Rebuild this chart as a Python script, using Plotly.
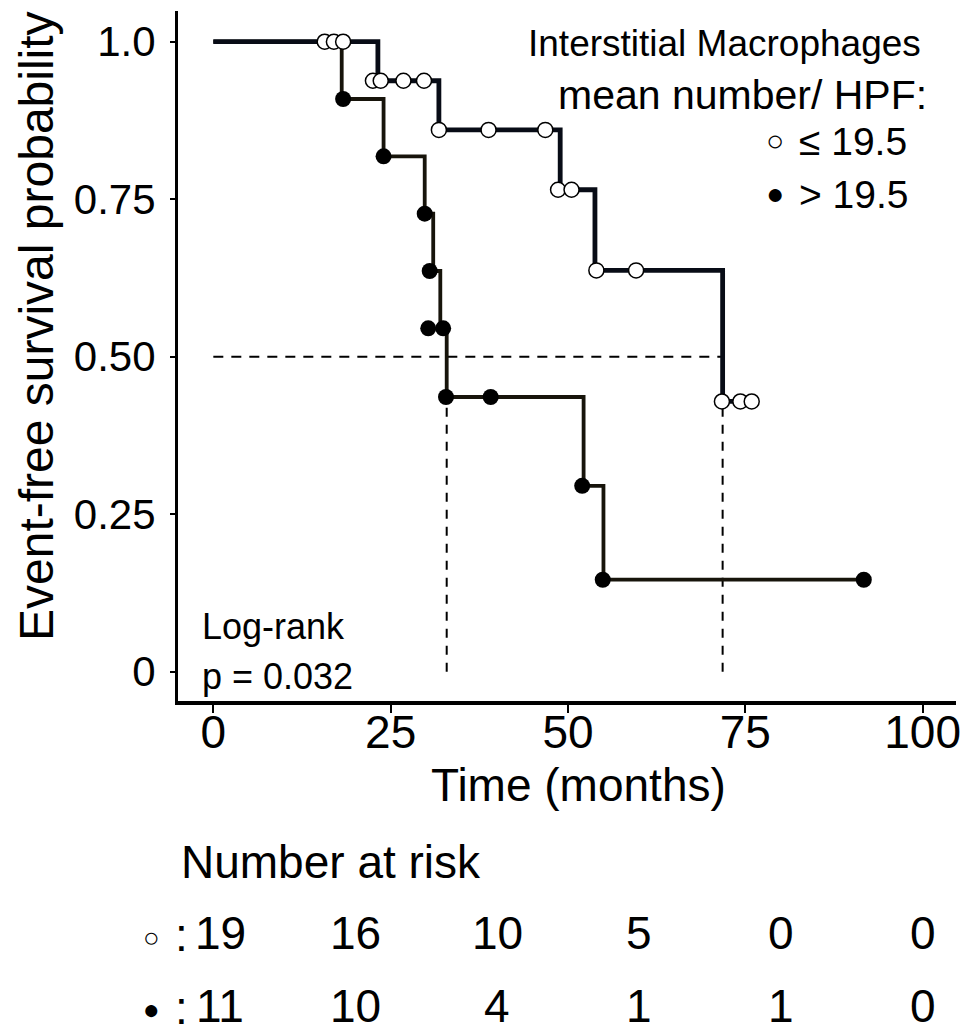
import plotly.graph_objects as go

# ---------------- data ----------------
# Group "<= 19.5" (open circles): step curve
low_times = [0, 23.2, 31.8, 48.9, 53.8, 71.8, 75.9]
low_surv = [1.0, 0.938, 0.860, 0.765, 0.637, 0.429, 0.429]
low_mark_t = [15.7, 17.0, 18.3, 22.5, 23.6, 26.8, 29.7, 31.8, 38.8, 46.8,
              48.6, 50.5, 54.0, 59.6, 71.7, 74.3, 75.9]
low_mark_s = [1.0, 1.0, 1.0, 0.938, 0.938, 0.938, 0.938, 0.860, 0.860, 0.860,
              0.765, 0.765, 0.637, 0.637, 0.429, 0.429, 0.429]

# Group "> 19.5" (filled circles): step curve
high_times = [0, 18.1, 24.0, 29.8, 31.0, 32.0, 32.9, 52.2, 55.0, 91.7]
high_surv = [1.0, 0.909, 0.818, 0.727, 0.636, 0.545, 0.436, 0.295, 0.146, 0.146]
high_mark_t = [18.3, 24.0, 29.8, 30.5, 30.3, 32.4, 32.8, 39.1, 52.0, 54.9, 91.7]
high_mark_s = [0.909, 0.818, 0.727, 0.636, 0.545, 0.545, 0.436, 0.436, 0.295, 0.146, 0.146]

# median survival times (dashed guides)
medians = [32.9, 71.8]
median_level = 0.5

# axis ticks
x_ticks = [0, 25, 50, 75, 100]
y_ticks = [0, 0.25, 0.5, 0.75, 1.0]
y_tick_text = ["0", "0.25", "0.50", "0.75", "1.0"]

# number at risk table
risk_times = [0, 20, 40, 60, 80, 100]
risk_low = [19, 16, 10, 5, 0, 0]
risk_high = [11, 10, 4, 1, 1, 0]

# ---------------- figure ----------------
FONT = "Liberation Sans, Arial, Helvetica, sans-serif"
fig = go.Figure()

# dashed median guides
fig.add_trace(go.Scatter(x=[0, max(medians)], y=[median_level, median_level], mode="lines",
                         line=dict(color="black", width=2, dash="10px,8px"),
                         hoverinfo="skip", showlegend=False))
for m in medians:
    fig.add_trace(go.Scatter(x=[m, m], y=[0, median_level], mode="lines",
                             line=dict(color="black", width=2, dash="9px,8px"),
                             hoverinfo="skip", showlegend=False))

# curves
fig.add_trace(go.Scatter(x=high_times, y=high_surv, mode="lines", line_shape="hv",
                         line=dict(color="#17140b", width=3.8), showlegend=False))
fig.add_trace(go.Scatter(x=low_times, y=low_surv, mode="lines", line_shape="hv",
                         line=dict(color="#080c16", width=4.8), showlegend=False))

# markers
fig.add_trace(go.Scatter(x=high_mark_t, y=high_mark_s, mode="markers",
                         marker=dict(symbol="circle", size=16, color="black",
                                     line=dict(color="black", width=0)),
                         showlegend=False))
fig.add_trace(go.Scatter(x=low_mark_t, y=low_mark_s, mode="markers",
                         marker=dict(symbol="circle", size=15, color="white",
                                     line=dict(color="black", width=1.5)),
                         showlegend=False))

# ---------------- annotations ----------------
def px2paper(px, py):
    return (px - 178) / 778.0, (701 - py) / 690.0

ann = []
def add_text(text, px, py, size, xanchor="center", angle=0):
    x, y = px2paper(px, py)
    ann.append(dict(text=text, x=x, y=y, xref="paper", yref="paper", xanchor=xanchor,
                    yanchor="middle", showarrow=False, textangle=angle,
                    font=dict(family=FONT, size=size, color="black")))

add_text("Event-free survival probability", 36, 326, 48, angle=-90)
add_text("Time (months)", 578, 785, 46)
add_text("Number at risk", 179, 862, 46, xanchor="left")
add_text("Log-rank", 200, 626, 36, xanchor="left")
add_text("p = 0.032", 200, 676, 36, xanchor="left")
add_text("Interstitial Macrophages", 724, 44, 37)
add_text("mean number/ HPF:", 742, 95, 41)
add_text("≤ 19.5", 797, 142, 39, xanchor="left")
add_text("> 19.5", 797, 194, 39, xanchor="left")
add_text("○", 775, 141, 30)
add_text("●", 775, 193, 30)

# at-risk rows
row_y = [933, 1006]
for vals, py in zip([risk_low, risk_high], row_y):
    _, yp = px2paper(0, py)
    for i, (t, v) in enumerate(zip(risk_times, vals)):
        ann.append(dict(text=str(v), x=t, y=yp, xref="x", yref="paper", xanchor="center",
                        yanchor="middle", showarrow=False, xshift=(7 if i == 0 else 0),
                        font=dict(family=FONT, size=46, color="black")))
add_text("○", 151, 937, 28)
add_text("●", 151, 1009, 28)
add_text(":", 181, 935, 46)
add_text(":", 181, 1008, 46)

fig.update_layout(
    width=978, height=1028,
    margin=dict(l=178, r=22, t=11, b=327, autoexpand=False),
    paper_bgcolor="white", plot_bgcolor="white",
    font=dict(family=FONT, color="black"),
    annotations=ann,
    showlegend=False,
)
fig.update_xaxes(range=[-4.98, 104.7], showline=True, linewidth=4, linecolor="black",
                 ticks="outside", ticklen=8, tickwidth=1.5, tickcolor="black",
                 tickvals=x_ticks, tickfont=dict(family=FONT, size=46, color="black"),
                 showgrid=False, zeroline=False, ticklabelstandoff=-20)
fig.update_yaxes(range=[-0.0465, 1.0487], showline=True, linewidth=3, linecolor="black",
                 ticks="outside", ticklen=5, tickwidth=1.5, tickcolor="black",
                 tickvals=y_ticks, ticktext=y_tick_text,
                 tickfont=dict(family=FONT, size=42, color="black"),
                 showgrid=False, zeroline=False, ticklabelstandoff=6)

fig.write_html("out.html", config={"displayModeBar": False},
               post_script="document.body.style.margin='0px';document.body.style.overflow='hidden';")
